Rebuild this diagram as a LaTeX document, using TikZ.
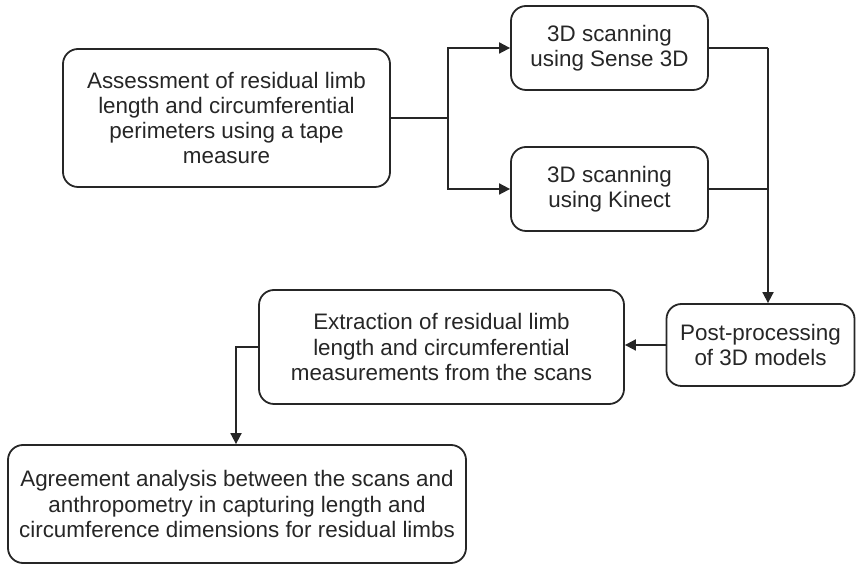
\documentclass[tikz,border=0pt]{standalone}
\usepackage{fontspec}
\setmainfont{Liberation Sans}
\usetikzlibrary{arrows.meta}

\begin{document}
\begin{tikzpicture}[x=0.5pt,y=-0.5pt,
	stepbox/.style={draw=black!85,line width=0.9pt,rounded corners=7.5pt,
		align=center,inner sep=0pt,text=black!85,
		font=\fontsize{11.2}{12.6}\selectfont},
	flow/.style={draw=black!85,line width=0.9pt,-{Triangle[length=5.5pt,width=5.5pt]}}]

	\useasboundingbox (0,0) rectangle (856,565);

	\newcommand*{\boxH}{84}%

	\node [stepbox,minimum width=327*0.5pt,minimum height=138*0.5pt] (assess) at (226.5,118)
		{Assessment of residual limb\\length and circumferential\\perimeters using a tape\\measure};
	\node [stepbox,minimum width=197*0.5pt,minimum height=\boxH*0.5pt] (sense) at (609.5,48)
		{3D scanning\\using Sense 3D};
	\node [stepbox,minimum width=197*0.5pt,minimum height=\boxH*0.5pt] (kinect) at (609.5,189)
		{3D scanning\\using Kinect};
	\node [stepbox,minimum width=188*0.5pt,minimum height=82*0.5pt] (post) at (760.5,345)
		{Post-processing\\of 3D models};
	\node [stepbox,minimum width=365*0.5pt,minimum height=114*0.5pt] (extract) at (441.5,347)
		{Extraction of residual limb\\length and circumferential\\measurements from the scans};
	\node [stepbox,minimum width=458*0.5pt,minimum height=118*0.5pt] (agree) at (237,504)
		{Agreement analysis between the scans and\\anthropometry in capturing length and\\circumference dimensions for residual limbs};

	\coordinate (split) at (448,118);
	\coordinate (merge) at (768,48);

	\draw [draw=black!85,line width=0.9pt] (assess.east) -- (split);
	\draw [flow] (split) |- (sense.west);
	\draw [flow] (split) |- (kinect.west);
	\draw [draw=black!85,line width=0.9pt] (sense.east) -- (merge);
	\draw [draw=black!85,line width=0.9pt] (kinect.east) -- (kinect.east -| merge);
	\draw [flow] (merge) -- (merge |- post.north);
	\draw [flow] (post.west) -- (post.west -| extract.east);
	\draw [flow] (extract.west) -| ([xshift=-0.5pt]agree.north);

\end{tikzpicture}
\end{document}
